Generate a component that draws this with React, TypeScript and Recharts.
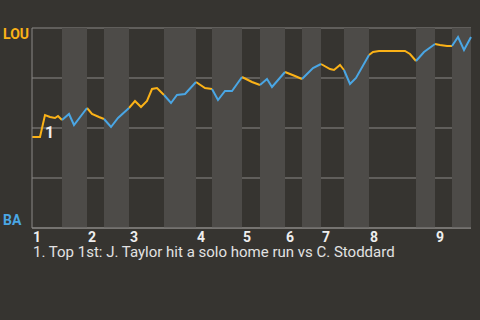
import React from "react";
import { LineChart, Line, XAxis, YAxis, CartesianGrid, ReferenceArea, ReferenceDot } from "recharts";

// play-by-play progress (x) and LOU win probability (%)
const plays = [
  0, 1.6, 2.6, 3.6, 4.6, 5.2, 6,
  7.4, 8.4, 11,
  12, 13.4, 14.4,
  15.8, 17.2, 19.4,
  20.6, 21.8, 23, 24, 25, 26.4,
  27.8, 29, 30.6, 32.8,
  34.6, 36,
  37.2, 38.6, 40, 42,
  44, 45.6,
  47, 48, 50.6,
  52.6, 54,
  56.2, 57.8,
  59.6, 60.4, 61.6, 62.4,
  63.6, 64.8, 67.4,
  68.2, 69.4, 74.6, 75.6, 76.8,
  78.4, 80.6,
  81.6, 83, 84,
  85.2, 86.4, 87.8,
];
const louWin = [
  45.5, 45.5, 56.5, 55.5, 55, 56, 54,
  57, 51.5, 60,
  57, 55.5, 54.5,
  50.5, 55, 60,
  63.5, 60.5, 63.5, 69.5, 70, 66.5,
  62.5, 66.5, 67, 73,
  70, 69.5,
  64, 68.5, 68.5, 75.5,
  73, 71.5,
  74.5, 70.5, 78,
  76, 74.5,
  80, 82,
  79.5, 79, 81.5, 79,
  72, 75, 86.5,
  88, 88.5, 88.5, 87, 83.5,
  88, 92,
  91.5, 91, 91,
  95.5, 89, 95.5,
];

// half-inning boundaries: even index = top half (LOU bats), odd = bottom half (BA bats)
const halfBounds = [0, 6, 11, 14.4, 19.4, 26.4, 32.8, 36, 42, 45.6, 50.6, 54, 57.8, 62.4, 67.4, 76.8, 80.6, 84, 87.8];
const innings = ["1", "2", "3", "4", "5", "6", "7", "8", "9"];
const notes = [{ play: 2.6, win: 56.5, label: "1" }];
const footnote = "1. Top 1st: J. Taylor hit a solo home run vs C. Stoddard";

const ORANGE = "#fbb217";
const BLUE = "#4aa6e4";
const BG = "#363430";
const BAND = "#4d4b48";
const GRID = "#8a8886";

const inHalf = (x: number, k: number) => x >= halfBounds[k] - 1e-6 && x <= halfBounds[k + 1] + 1e-6;

const data = plays.map((x, i) => {
  let top = false;
  let bottom = false;
  for (let k = 0; k < halfBounds.length - 1; k++) {
    if (inHalf(x, k)) {
      if (k % 2 === 0) top = true;
      else bottom = true;
    }
  }
  return { x, lou: top ? louWin[i] : null, ba: bottom ? louWin[i] : null };
});

const inningTicks = halfBounds.filter((_, k) => k % 2 === 0 && k < halfBounds.length - 1);

const XTick = (props: any) => {
  const { x, y, payload } = props;
  const idx = inningTicks.indexOf(payload.value);
  return (
    <text x={x + 1} y={y + 6} textAnchor="start" fill="#eeeeee" fontSize={14} fontWeight="bold" fontFamily="Roboto">
      {innings[idx]}
    </text>
  );
};

const YTick = (props: any) => {
  const { y, payload } = props;
  if (payload.value === 100)
    return (
      <text x={3} y={y + 11} fill={ORANGE} fontSize={14} fontWeight="bold" fontFamily="Roboto">LOU</text>
    );
  if (payload.value === 0)
    return (
      <text x={3} y={y - 3} fill={BLUE} fontSize={14} fontWeight="bold" fontFamily="Roboto">BA</text>
    );
  return null;
};

export default function App() {
  return (
    <div style={{ position: "absolute", left: 0, top: 0, width: 480, height: 320, background: BG, fontFamily: "Roboto" }}>
      <LineChart width={480} height={320} data={data} margin={{ top: 28, right: 9, bottom: 0, left: 0 }}>
        {halfBounds.slice(0, -1).map((b, k) =>
          k % 2 === 1 ? (
            <ReferenceArea key={k} x1={b} x2={halfBounds[k + 1]} fill={BAND} fillOpacity={1} stroke="none" />
          ) : null
        )}
        <CartesianGrid vertical={false} stroke={GRID} strokeWidth={1} />
        <XAxis
          type="number"
          dataKey="x"
          domain={[0, 87.8]}
          ticks={inningTicks}
          tick={<XTick />}
          tickLine={false}
          axisLine={{ stroke: GRID }}
          height={92}
          interval={0}
        />
        <YAxis
          type="number"
          domain={[0, 100]}
          ticks={[0, 25, 50, 75, 100]}
          tick={<YTick />}
          tickLine={false}
          axisLine={{ stroke: GRID }}
          width={32}
        />
        <Line type="linear" dataKey="lou" stroke={ORANGE} strokeWidth={2} dot={false} isAnimationActive={false} />
        <Line type="linear" dataKey="ba" stroke={BLUE} strokeWidth={2} dot={false} isAnimationActive={false} />
        {notes.map((n) => (
          <ReferenceDot
            key={n.label}
            x={n.play}
            y={n.win}
            r={0}
            stroke="none"
            label={(p: any) => (
              <text x={p.viewBox.x + 0} y={p.viewBox.y + 23} fill="#eeeeee" fontSize={16} fontWeight="bold" fontFamily="Roboto">
                {n.label}
              </text>
            )}
          />
        ))}
      </LineChart>
      <div style={{ position: "absolute", left: 33, top: 243, fontSize: 15, lineHeight: "18px", color: "#e2e2e2", whiteSpace: "nowrap" }}>
        {footnote}
      </div>
    </div>
  );
}
